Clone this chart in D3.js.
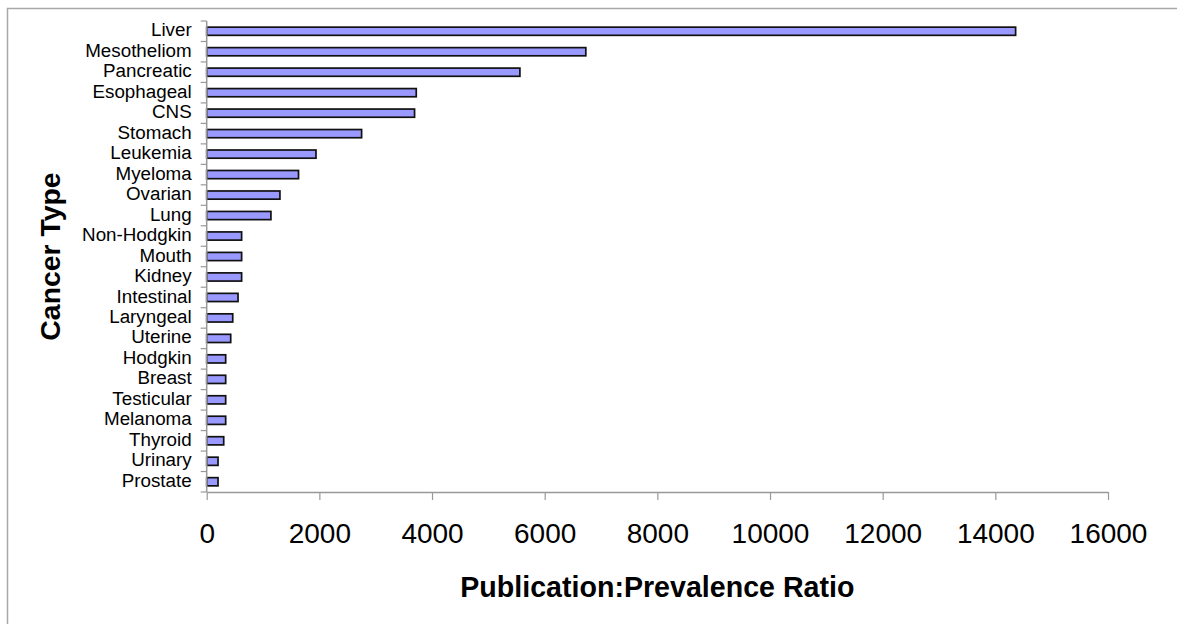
<!DOCTYPE html>
<html>
<head>
<meta charset="utf-8">
<script src="https://cdn.jsdelivr.net/npm/d3@7"></script>
<style>
  body { margin: 0; background: #fff; overflow: hidden; }
  svg { display: block; font-family: "Liberation Sans", Arial, sans-serif; }
</style>
</head>
<body>
<svg id="chart" width="1177" height="624"></svg>
<script>
const width = 1177;
const height = 624;

// Data
const categories = ["Liver", "Mesotheliom", "Pancreatic", "Esophageal", "CNS", "Stomach",
  "Leukemia", "Myeloma", "Ovarian", "Lung", "Non-Hodgkin", "Mouth", "Kidney", "Intestinal",
  "Laryngeal", "Uterine", "Hodgkin", "Breast", "Testicular", "Melanoma", "Thyroid",
  "Urinary", "Prostate"];
const ratios = [14360, 6730, 5560, 3720, 3690, 2750, 1940, 1630, 1300, 1140, 620, 620, 620,
  556, 462, 426, 337, 337, 337, 337, 302, 201, 201];
const xTicks = [0, 2000, 4000, 6000, 8000, 10000, 12000, 14000, 16000];

const margin = { top: 21, bottom: 132, left: 206.7 };
const plotBottom = height - margin.bottom;

const svg = d3.select("#chart");

// Outer frame: only its top and left edges fall inside the picture
svg.append("path")
  .attr("d", `M7.5,${height} V8.5 H${width}`)
  .attr("fill", "none")
  .attr("stroke", "#a8a8a8")
  .attr("stroke-width", 1.5);

// Scales
const x = d3.scaleLinear().domain([0, 16000]).range([margin.left, 1108]);
const y = d3.scaleBand().domain(categories)
  .range([margin.top, plotBottom])
  .paddingInner(0.6)
  .paddingOuter(0.3);

// Bars
svg.append("g")
  .selectAll("rect")
  .data(categories)
  .join("rect")
  .attr("x", x(0))
  .attr("y", (d) => y(d))
  .attr("width", (d, i) => x(ratios[i]) - x(0))
  .attr("height", y.bandwidth())
  .attr("fill", "#9999ff")
  .attr("stroke", "#111")
  .attr("stroke-width", 1.7);

// X axis
const xAxis = svg.append("g")
  .attr("transform", `translate(0,${plotBottom})`)
  .call(d3.axisBottom(x).tickValues(xTicks).tickFormat(d3.format("d"))
    .tickSizeInner(8).tickSizeOuter(0).tickPadding(23));
xAxis.select(".domain").attr("stroke", "#999").attr("stroke-width", 1.5);
xAxis.selectAll(".tick line").attr("stroke", "#999").attr("stroke-width", 1.2);
xAxis.selectAll(".tick text")
  .attr("font-size", 28)
  .attr("fill", "#000");

// Y axis: labels from the band axis, ticks at the band boundaries
const yAxis = svg.append("g")
  .attr("transform", `translate(${margin.left},0)`)
  .call(d3.axisLeft(y).tickSize(0).tickPadding(15));
yAxis.select(".domain").remove();
yAxis.selectAll(".tick text")
  .attr("font-size", 18.8)
  .attr("dy", "0.27em")
  .attr("fill", "#000");

const boundaries = categories.map((c) => y(c) - y.paddingOuter() * y.step());
boundaries.push(plotBottom);
svg.append("g")
  .selectAll("line")
  .data(boundaries)
  .join("line")
  .attr("x1", margin.left - 6).attr("x2", margin.left)
  .attr("y1", (d) => d).attr("y2", (d) => d)
  .attr("stroke", "#999").attr("stroke-width", 1.2);

svg.append("line")
  .attr("x1", margin.left).attr("x2", margin.left)
  .attr("y1", margin.top).attr("y2", plotBottom)
  .attr("stroke", "#999").attr("stroke-width", 1.5);

// Axis titles
svg.append("text")
  .attr("x", (x(0) + x(16000)) / 2)
  .attr("y", 596.5)
  .attr("text-anchor", "middle")
  .attr("font-size", 28.6)
  .attr("font-weight", "bold")
  .text("Publication:Prevalence Ratio");

svg.append("text")
  .attr("transform", `translate(60,${(margin.top + plotBottom) / 2}) rotate(-90)`)
  .attr("text-anchor", "middle")
  .attr("font-size", 28.4)
  .attr("font-weight", "bold")
  .text("Cancer Type");
</script>
</body>
</html>
